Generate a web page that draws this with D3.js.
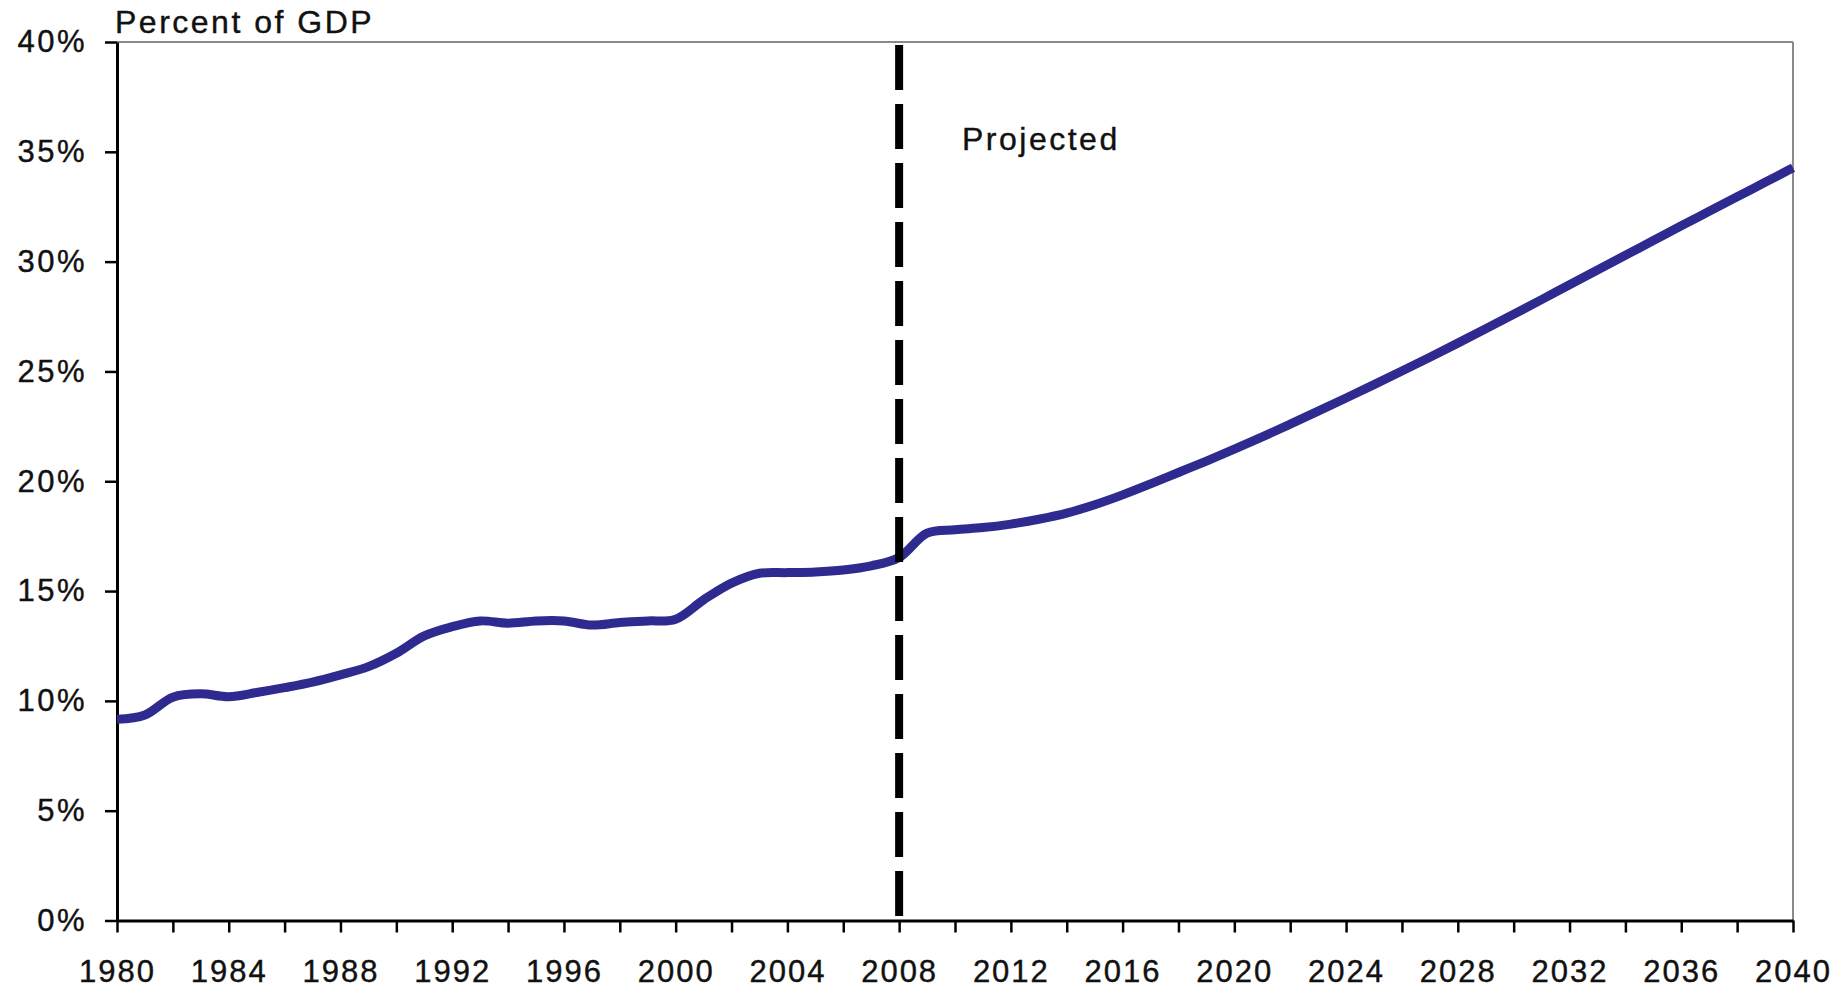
<!DOCTYPE html>
<html>
<head>
<meta charset="utf-8">
<script src="https://cdn.jsdelivr.net/npm/d3@7"></script>
<style>
  html, body { margin: 0; padding: 0; background: #fff; }
  svg { display: block; }
  text { font-family: "Liberation Sans", Arial, sans-serif; fill: #111; }
</style>
</head>
<body>
<svg id="chart" width="1841" height="990"></svg>
<script>
// ---- data ----
const years = [1980,1981,1982,1983,1984,1985,1986,1987,1988,1989,
               1990,1991,1992,1993,1994,1995,1996,1997,1998,1999,
               2000,2001,2002,2003,2004,2005,2006,2007,2008,2009,
               2010,2011,2012,2013,2014,2015,2016,2017,2018,2019,
               2020,2021,2022,2023,2024,2025,2026,2027,2028,2029,
               2030,2031,2032,2033,2034,2035,2036,2037,2038,2039,2040];
const values = [9.16,9.36,10.17,10.32,10.19,10.38,10.6,10.85,11.18,11.56,
                12.17,12.96,13.38,13.64,13.54,13.64,13.64,13.45,13.57,13.64,
                13.72,14.6,15.36,15.81,15.84,15.87,15.96,16.15,16.53,17.64,
                17.79,17.89,18.05,18.27,18.55,18.93,19.38,19.88,20.4,20.92,
                21.46,22.02,22.6,23.19,23.79,24.4,25.02,25.65,26.29,26.94,
                27.6,28.27,28.95,29.62,30.29,30.96,31.63,32.29,32.95,33.61,34.27];
const yTicks = [0,5,10,15,20,25,30,35,40];
const xMinorTicks = d3.range(1980, 2041, 2);
const xLabelYears = d3.range(1980, 2041, 4);
const projectionYear = 2008;
const yAxisTitle = "Percent of GDP";
const projectedLabel = "Projected";

// ---- layout ----
const mLeft = 117, mRight = 1793, mTop = 42, mBottom = 920.5;
const svg = d3.select("#chart");

const x = d3.scaleLinear().domain([1980, 2040]).range([mLeft, mRight]);
const y = d3.scaleLinear().domain([0, 40]).range([mBottom, mTop]);

// frame (top and right, grey)
svg.append("line").attr("x1", mLeft).attr("x2", mRight).attr("y1", mTop).attr("y2", mTop)
  .attr("stroke", "#8a8a8a").attr("stroke-width", 2);
svg.append("line").attr("x1", mRight).attr("x2", mRight).attr("y1", mTop).attr("y2", mBottom)
  .attr("stroke", "#8a8a8a").attr("stroke-width", 2);

// y axis
const yAxis = d3.axisLeft(y).tickValues(yTicks).tickFormat(d => d + "%")
  .tickSize(12).tickSizeOuter(0).tickPadding(18);
const gy = svg.append("g").attr("transform", `translate(${mLeft},0)`).call(yAxis);
gy.select(".domain").attr("stroke", "#000").attr("stroke-width", 3);
gy.selectAll(".tick line").attr("stroke", "#000").attr("stroke-width", 2.5);
gy.selectAll(".tick text").attr("font-size", 31).attr("letter-spacing", "2.5px")
  .attr("font-family", "Liberation Sans, Arial, sans-serif").attr("fill", "#111")
  .attr("stroke", "#111").attr("stroke-width", 0.4);

// x axis
const xAxis = d3.axisBottom(x).tickValues(xMinorTicks)
  .tickFormat(d => xLabelYears.includes(d) ? String(d) : "")
  .tickSize(12).tickSizeOuter(0).tickPadding(27);
const gx = svg.append("g").attr("transform", `translate(0,${mBottom})`).call(xAxis);
gx.select(".domain").attr("stroke", "#000").attr("stroke-width", 3);
gx.selectAll(".tick line").attr("stroke", "#000").attr("stroke-width", 2.5);
gx.selectAll(".tick text").attr("font-size", 31).attr("letter-spacing", "2px")
  .attr("font-family", "Liberation Sans, Arial, sans-serif").attr("fill", "#111")
  .attr("stroke", "#111").attr("stroke-width", 0.4);

// data line
const data = years.map((yr, i) => ({ year: yr, value: values[i] }));
const line = d3.line().x(d => x(d.year)).y(d => y(d.value)).curve(d3.curveCatmullRom.alpha(0.5));
svg.append("path").datum(data).attr("d", line)
  .attr("fill", "none").attr("stroke", "#2e2a90").attr("stroke-width", 9)
  .attr("stroke-linejoin", "round").attr("stroke-linecap", "butt");

// projection divider
svg.append("line")
  .attr("x1", x(projectionYear)).attr("x2", x(projectionYear))
  .attr("y1", y(40)).attr("y2", y(0))
  .attr("stroke", "#000").attr("stroke-width", 8)
  .attr("stroke-dasharray", "45,14").attr("stroke-dashoffset", -3);

// texts
svg.append("text").attr("x", 115).attr("y", 33).attr("font-size", 32)
  .attr("letter-spacing", "2.5px").attr("stroke", "#111").attr("stroke-width", 0.4)
  .text(yAxisTitle);
svg.append("text").attr("x", 962).attr("y", 150).attr("font-size", 32)
  .attr("letter-spacing", "2.5px").attr("stroke", "#111").attr("stroke-width", 0.4)
  .text(projectedLabel);
</script>
</body>
</html>
